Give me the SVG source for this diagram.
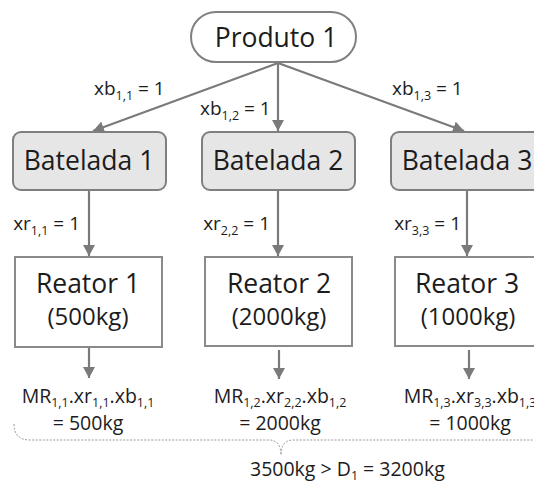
<svg xmlns="http://www.w3.org/2000/svg" width="534" height="483" viewBox="0 0 534 483">
  <style>
    text { font-family: "Open Sans", "Noto Sans", "DejaVu Sans", sans-serif; fill: #1c1c1c; }
    .big { font-size: 26.5px; text-anchor: middle; }
    .mid { font-size: 24px; text-anchor: middle; }
    .lbl { font-size: 19px; }
    .res { font-size: 19.5px; text-anchor: middle; }
    .sub { font-size: 12.5px; }
    .wire { stroke: #7a7a7a; stroke-width: 2.2; fill: none; }
    .batch { fill: #e6e6e6; stroke: #7f7f7f; stroke-width: 2; }
    .reactor { fill: #ffffff; stroke: #8a8a8a; stroke-width: 2; }
    .brace { stroke: #9a9a9a; stroke-width: 1; fill: none; stroke-dasharray: 2 1.5; }
  </style>
  <defs>
    <marker id="ah" viewBox="0 0 11 12" refX="11" refY="6" markerWidth="11" markerHeight="12" orient="auto" markerUnits="userSpaceOnUse">
      <path d="M0,0 L11,6 L0,12 z" fill="#7a7a7a"/>
    </marker>
  </defs>

  <!-- connectors -->
  <g id="connectors">
    <line class="wire" x1="278" y1="63" x2="93" y2="131" marker-end="url(#ah)"/>
    <line class="wire" x1="278" y1="63" x2="278" y2="131" marker-end="url(#ah)"/>
    <line class="wire" x1="278" y1="63" x2="464" y2="131" marker-end="url(#ah)"/>
    <line class="wire" x1="89" y1="190" x2="89" y2="256" marker-end="url(#ah)"/>
    <line class="wire" x1="278" y1="190" x2="278" y2="256" marker-end="url(#ah)"/>
    <line class="wire" x1="467" y1="190" x2="467" y2="256" marker-end="url(#ah)"/>
    <line class="wire" x1="89" y1="348" x2="89" y2="378" marker-end="url(#ah)"/>
    <line class="wire" x1="279" y1="350" x2="279" y2="379" marker-end="url(#ah)"/>
    <line class="wire" x1="469" y1="350" x2="469" y2="379" marker-end="url(#ah)"/>
  </g>

  <!-- connector labels -->
  <g id="labels">
    <text class="lbl" x="94" y="95">xb<tspan class="sub" dy="5">1,1</tspan><tspan dy="-5"> = 1</tspan></text>
    <text class="lbl" x="200" y="115">xb<tspan class="sub" dy="5">1,2</tspan><tspan dy="-5"> = 1</tspan></text>
    <text class="lbl" x="392" y="95">xb<tspan class="sub" dy="5">1,3</tspan><tspan dy="-5"> = 1</tspan></text>
    <text class="lbl" x="80" y="230" text-anchor="end">xr<tspan class="sub" dy="5">1,1</tspan><tspan dy="-5"> = 1</tspan></text>
    <text class="lbl" x="270" y="230" text-anchor="end">xr<tspan class="sub" dy="5">2,2</tspan><tspan dy="-5"> = 1</tspan></text>
    <text class="lbl" x="461" y="230" text-anchor="end">xr<tspan class="sub" dy="5">3,3</tspan><tspan dy="-5"> = 1</tspan></text>
  </g>

  <!-- product -->
  <g id="produto1">
    <rect x="191" y="12" width="165" height="50" rx="25" ry="25" fill="#ffffff" stroke="#808080" stroke-width="2"/>
    <text class="big" x="276" y="47">Produto 1</text>
  </g>

  <!-- batches -->
  <g id="batelada1">
    <rect class="batch" x="13" y="132" width="153" height="58" rx="8"/>
    <text class="big" x="89" y="170">Batelada 1</text>
  </g>
  <g id="batelada2">
    <rect class="batch" x="202" y="132" width="153" height="58" rx="8"/>
    <text class="big" x="278" y="170">Batelada 2</text>
  </g>
  <g id="batelada3">
    <rect class="batch" x="391" y="132" width="153" height="58" rx="8"/>
    <text class="big" x="467" y="170">Batelada 3</text>
  </g>

  <!-- reactors -->
  <g id="reator1">
    <rect class="reactor" x="15" y="257" width="147" height="90"/>
    <text class="big" x="88" y="293">Reator 1</text>
    <text class="mid" x="88" y="325">(500kg)</text>
  </g>
  <g id="reator2">
    <rect class="reactor" x="205" y="257" width="147" height="89"/>
    <text class="big" x="279" y="293">Reator 2</text>
    <text class="mid" x="279" y="325">(2000kg)</text>
  </g>
  <g id="reator3">
    <rect class="reactor" x="395" y="257" width="147" height="89"/>
    <text class="big" x="467" y="293">Reator 3</text>
    <text class="mid" x="468" y="325">(1000kg)</text>
  </g>

  <!-- produced masses -->
  <g id="massas">
    <text class="res" x="88" y="403">MR<tspan class="sub" dy="4">1,1</tspan><tspan dy="-4">.xr</tspan><tspan class="sub" dy="4">1,1</tspan><tspan dy="-4">.xb</tspan><tspan class="sub" dy="4">1,1</tspan></text>
    <text class="res" x="88" y="430">= 500kg</text>
    <text class="res" x="280" y="403">MR<tspan class="sub" dy="4">1,2</tspan><tspan dy="-4">.xr</tspan><tspan class="sub" dy="4">2,2</tspan><tspan dy="-4">.xb</tspan><tspan class="sub" dy="4">1,2</tspan></text>
    <text class="res" x="280" y="430">= 2000kg</text>
    <text class="res" x="470" y="403">MR<tspan class="sub" dy="4">1,3</tspan><tspan dy="-4">.xr</tspan><tspan class="sub" dy="4">3,3</tspan><tspan dy="-4">.xb</tspan><tspan class="sub" dy="4">1,3</tspan></text>
    <text class="res" x="470" y="430">= 1000kg</text>
  </g>

  <!-- sum brace -->
  <g id="soma">
    <path class="brace" d="M14,424 Q14,440 30,440 L270,440 Q281,441 281,455 Q281,441 292,440 L540,440"/>
    <text class="lbl" x="250" y="476" style="font-size:19.5px">3500kg &gt; D<tspan class="sub" dy="4">1</tspan><tspan dy="-4"> = 3200kg</tspan></text>
  </g>
</svg>
